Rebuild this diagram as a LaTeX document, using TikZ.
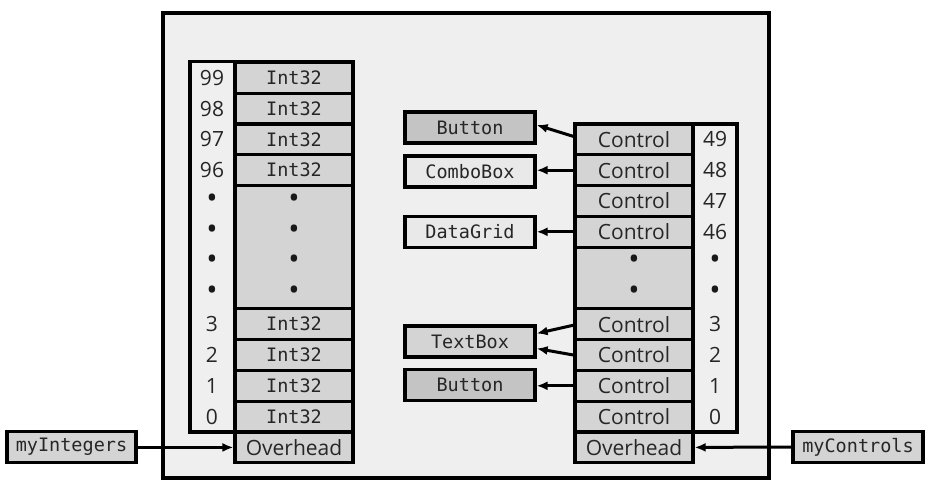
\documentclass[tikz,border=0pt]{standalone}
\usepackage{fontspec}
\setmainfont{Open Sans}
\newfontfamily\codefont{DejaVu Sans Mono}
\usetikzlibrary{arrows.meta}
\definecolor{panel}{HTML}{EFEFEF}
\definecolor{cellgray}{HTML}{D4D4D4}
\definecolor{darkobj}{HTML}{C4C4C4}
\definecolor{lightobj}{HTML}{E9E9E9}
\tikzset{
  slot/.style={draw, line width=3.2pt, fill=cellgray, minimum width=118pt,
    minimum height=30.8pt, inner sep=0pt, text=black!85,
    font=\fontsize{21}{21}\selectfont},
  idx/.style={inner sep=0pt, text=black!85, font=\fontsize{21}{21}\selectfont},
  dot/.style={inner sep=0pt, text=black!90, font=\fontsize{30}{30}\selectfont},
  obj/.style={draw, line width=3.2pt, minimum width=130pt, minimum height=31pt,
    inner sep=0pt, text=black!85, font=\codefont\fontsize{18.5}{18.5}\selectfont},
  frame/.style={draw, line width=3.2pt, fill=panel},
  link/.style={->, line width=3pt}
}
\begin{document}
\begin{tikzpicture}[x=1pt, y=-1pt, >={Latex[length=11pt,width=9pt]}]
\useasboundingbox (0,0) rectangle (933,485);
\draw[line width=3.2pt, fill=panel] (163,13) rectangle (769,478);
% array of Int32
\draw[frame] (190,61.6) rectangle (353,432);
\foreach \r/\n in {0/0,1/1,2/2,3/3,8/96,9/97,10/98,11/99}
{
    \node[slot] (int\n) at (294,{432-(\r+.5)*30.8}) {\codefont\fontsize{18.5}{18.5}\selectfont Int32};
    \node[idx] at (212,{432-(\r+.5)*30.8}) {\n};
}
\node[slot, minimum height=123.2pt] (intdots) at (294,247.2) {};
\foreach \r in {4,...,7}
{
    \node[dot] at (212,{432-(\r+.5)*30.8}) {•};
    \node[dot] at (294,{432-(\r+.5)*30.8}) {•};
}
\node[slot] (ovL) at (294,447.4) {Overhead};
% array of Control
\draw[frame] (575,124) rectangle (737,432);
\foreach \r/\n in {0/0,1/1,2/2,3/3,6/46,7/47,8/48,9/49}
{
    \node[slot] (ctl\n) at (634,{432-(\r+.5)*30.8}) {Control};
    \node[idx] at (715,{432-(\r+.5)*30.8}) {\n};
}
\node[slot, minimum height=61.6pt] (ctldots) at (634,278) {};
\foreach \r in {4,5}
{
    \node[dot] at (715,{432-(\r+.5)*30.8}) {•};
    \node[dot] at (634,{432-(\r+.5)*30.8}) {•};
}
\node[slot] (ovR) at (634,447.4) {Overhead};
% objects on the heap
\node[obj, fill=darkobj] (btnA) at (470,127.5) {Button};
\node[obj, fill=lightobj] (combo) at (470,171.5) {ComboBox};
\node[obj, fill=lightobj] (grid) at (470,232) {DataGrid};
\node[obj, fill=cellgray] (tbox) at (470,341.5) {TextBox};
\node[obj, fill=darkobj] (btnB) at (470,385) {Button};
\draw[link] ([yshift=3pt]ctl49.west) -- ([yshift=2.5pt]btnA.east);
\draw[link] (ctl48.west) -- (ctl48.west -| combo.east);
\draw[link] (ctl46.west) -- (ctl46.west -| grid.east);
\draw[link] ([yshift=-1pt]ctl3.west) -- ([yshift=8pt]tbox.east);
\draw[link] (ctl2.west) -- ([yshift=-7pt]tbox.east);
\draw[link] (ctl1.west) -- (ctl1.west -| btnB.east);
% references
\node[obj, fill=cellgray, minimum width=129pt] (myInt) at (71.5,447) {myIntegers};
\node[obj, fill=cellgray] (myCtl) at (858,447) {myControls};
\draw[link] (myInt.east) -- (myInt.east |- ovL.west) -- (ovL.west);
\draw[link] (myCtl.west) -- (ovR.east);
\end{tikzpicture}
\end{document}
